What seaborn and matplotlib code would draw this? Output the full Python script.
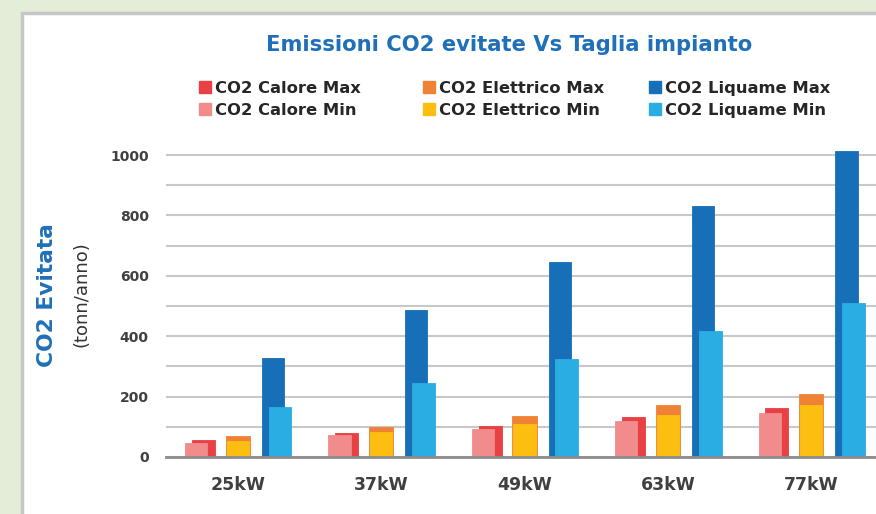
import seaborn as sns
import matplotlib.pyplot as plt
import numpy as np
from matplotlib.patches import Rectangle
from matplotlib.lines import Line2D
from matplotlib.ticker import MultipleLocator

taglie = ["25kW", "37kW", "49kW", "63kW", "77kW"]
calore_max = [55, 79, 103, 133, 162]
calore_min = [47, 73, 93, 119, 145]
elettrico_max = [70, 99, 136, 172, 209]
elettrico_min = [54, 83, 109, 140, 171]
liquame_max = [327, 487, 646, 831, 1014]
liquame_min = [167, 245, 324, 417, 509]

sns.set_style("white")
plt.rcParams["font.family"] = ["DejaVu Sans"]

fig = plt.figure(figsize=(8.76, 5.14), dpi=100, facecolor="#E3EDD8")
# white panel with grey border
fig.patches.append(Rectangle((22, -20), 900, 514 - 13 + 20, transform=None,
                             facecolor="white", edgecolor="#C6C6C6", linewidth=2.5, zorder=-1))

ax = fig.add_axes([166 / 876, 1 - 457 / 514, 717 / 876, 311 / 514])
ax.set_facecolor("none")

x = np.arange(len(taglie))
series = [
    (calore_max, -0.24, 0.16, "#E84043", "CO2 Calore Max"),
    (calore_min, -0.29, 0.155, "#F18B8C", "CO2 Calore Min"),
    (elettrico_max, 0.0, 0.17, "#EF8234", "CO2 Elettrico Max"),
    (elettrico_min, 0.0, 0.155, "#FDBE12", "CO2 Elettrico Min"),
    (liquame_max, 0.245, 0.155, "#166FB7", "CO2 Liquame Max"),
    (liquame_min, 0.295, 0.16, "#2AADE3", "CO2 Liquame Min"),
]
for vals, off, w, col, lab in series:
    sns.barplot(x=x + off, y=vals, native_scale=True, width=w, color=col,
                errorbar=None, ax=ax, zorder=3, edgecolor=col, linewidth=0.6,
                saturation=1, clip_on=False)

ax.set_xlim(-0.5, 4.5)
ax.set_ylim(0, 1030)
ax.set_xticks(x)
ax.set_xticklabels(taglie, fontsize=12.5, fontweight="bold", color="#404040")
ax.set_yticks(range(0, 1001, 200))
ax.yaxis.set_minor_locator(MultipleLocator(100))
ax.tick_params(axis="y", which="both", labelsize=10, labelcolor="#404040", length=0, pad=12.5)
ax.tick_params(axis="x", length=0, pad=14)
for t in ax.get_yticklabels():
    t.set_fontweight("bold")
ax.grid(True, axis="y", which="both", color="#C8C8C8", linewidth=1.5, zorder=0)
ax.set_axisbelow(True)
for s in ["top", "right", "left"]:
    ax.spines[s].set_visible(False)
ax.spines["bottom"].set_color("#8C8C8C")
ax.spines["bottom"].set_linewidth(2)
ax.spines["bottom"].set_zorder(4)
ax.set_xlabel("")

fig.text(509 / 876, 1 - 45 / 514, "Emissioni CO2 evitate Vs Taglia impianto",
         ha="center", va="center", fontsize=15.2, fontweight="bold", color="#1F70B8")
fig.text(47 / 876, 1 - 295 / 514, "CO2 Evitata", rotation=90, ha="center", va="center",
         fontsize=15.7, fontweight="bold", color="#1F70B8")
fig.text(82 / 876, 1 - 294 / 514, "(tonn/anno)", rotation=90, ha="center", va="center",
         fontsize=13, color="#333333")

# legend: three columns of two entries, placed like the original
col_x = [199, 423, 649]
for i, cx in enumerate(col_x):
    pair = series[2 * i:2 * i + 2]
    handles = [Line2D([], [], marker="s", linestyle="", markersize=8, color=p[3]) for p in pair]
    labels = [p[4] for p in pair]
    fig.legend(handles, labels, loc="upper left", bbox_to_anchor=(cx / 876, 1 - 81 / 514),
               frameon=False, handlelength=0.7, handletextpad=0.3, borderpad=0,
               borderaxespad=0, labelspacing=0.42, prop={"weight": "bold", "size": 11.8})

plt.savefig("out.png", dpi=100, facecolor=fig.get_facecolor())
